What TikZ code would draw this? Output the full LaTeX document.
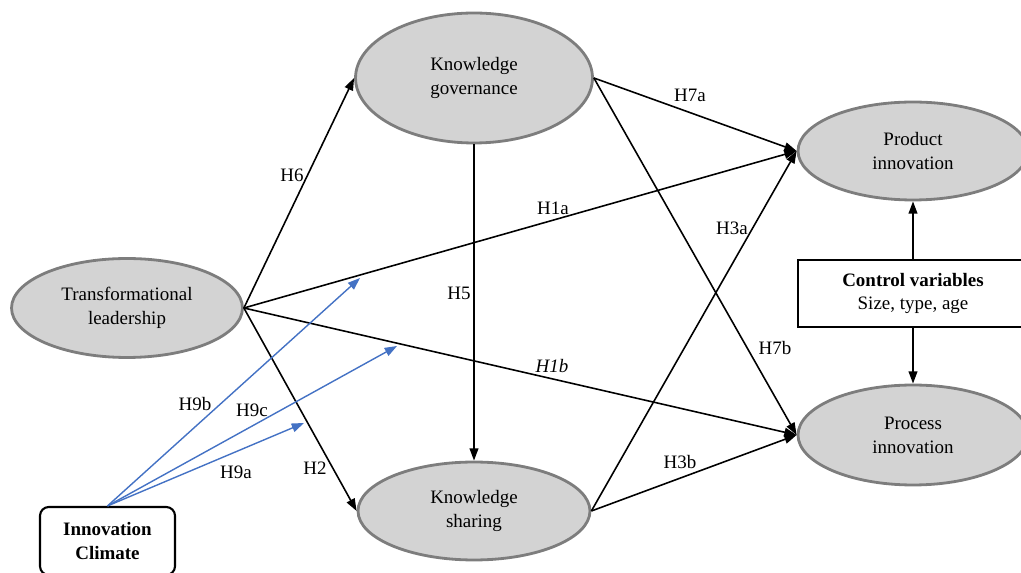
\documentclass[tikz,border=0pt]{standalone}
\usepackage{fontspec}
\setmainfont{Liberation Serif}
\usetikzlibrary{shapes.geometric,arrows.meta}

\definecolor{borda}{RGB}{125,125,125}
\definecolor{fundo}{RGB}{211,211,211}
\definecolor{azul}{RGB}{68,114,196}

\begin{document}
\begin{tikzpicture}[x=0.02cm,y=-0.02cm,
  font=\fontsize{10.8}{13.6}\selectfont,
  construto/.style={ellipse,draw=borda,fill=fundo,line width=1.6pt,inner sep=0pt,align=center},
  seta/.style={-{Triangle[length=7pt,width=5pt]},line width=0.9pt},
  setaazul/.style={-{Triangle[length=7pt,width=5pt]},line width=0.8pt,azul},
  rotulo/.style={inner sep=0pt}]
\useasboundingbox (0,0) rectangle (1021,573);

% Construtos
\node[construto,minimum width=4.74cm,minimum height=2.6cm] (kg) at (474,78) {Knowledge\\governance};
\node[construto,minimum width=4.62cm,minimum height=1.98cm] (tl) at (127,308) {Transformational\\leadership};
\node[construto,minimum width=4.64cm,minimum height=1.96cm] (ks) at (474,511) {Knowledge\\sharing};
\node[construto,minimum width=4.6cm,minimum height=1.96cm] (pi) at (913,151) {Product\\innovation};
\node[construto,minimum width=4.6cm,minimum height=2cm] (pr) at (913,435) {Process\\innovation};

% Caixas
\node[draw,line width=1.2pt,minimum width=4.6cm,minimum height=1.34cm,align=center] (cv) at (913,293.5) {\textbf{Control variables}\\Size, type, age};
\node[draw,line width=1.2pt,rounded corners=5pt,minimum width=2.7cm,minimum height=1.36cm,align=center] (ic) at (107.5,541) {\textbf{Innovation}\\\textbf{Climate}};

% Hipoteses
\draw[seta] (tl.east) -- (kg.west);
\draw[seta] (tl.east) -- (ks.west);
\draw[seta] (tl.east) -- (pi.west);
\draw[seta] (tl.east) -- (pr.west);
\draw[seta] (kg.south) -- (ks.north);
\draw[seta] (kg.east) -- (pi.west);
\draw[seta] (kg.east) -- (pr.west);
\draw[seta] (ks.east) -- (pi.west);
\draw[seta] (ks.east) -- (pr.west);
\draw[seta] (cv.north) -- (pi.south);
\draw[seta] (cv.south) -- (pr.north);

% Moderacao
\coordinate (m9b) at (360,278);
\coordinate (m9c) at (397,346);
\coordinate (m9a) at (304,423);
\draw[setaazul] (ic.north) -- (m9b);
\draw[setaazul] (ic.north) -- (m9c);
\draw[setaazul] (ic.north) -- (m9a);

% Rotulos
\node[rotulo] (lh6) at (292,175) {H6};
\node[rotulo] (lh2) at (315,468) {H2};
\node[rotulo] (lh1a) at (553,208) {H1a};
\node[rotulo] (lh1b) at (552,366) {\textit{H1b}};
\node[rotulo] (lh5) at (459,293) {H5};
\node[rotulo] (lh7a) at (690,95) {H7a};
\node[rotulo] (lh7b) at (775,348) {H7b};
\node[rotulo] (lh3a) at (732,228) {H3a};
\node[rotulo] (lh3b) at (680,462) {H3b};
\node[rotulo] (lh9b) at (195,404) {H9b};
\node[rotulo] (lh9c) at (252,410) {H9c};
\node[rotulo] (lh9a) at (236,472) {H9a};

\end{tikzpicture}
\end{document}
